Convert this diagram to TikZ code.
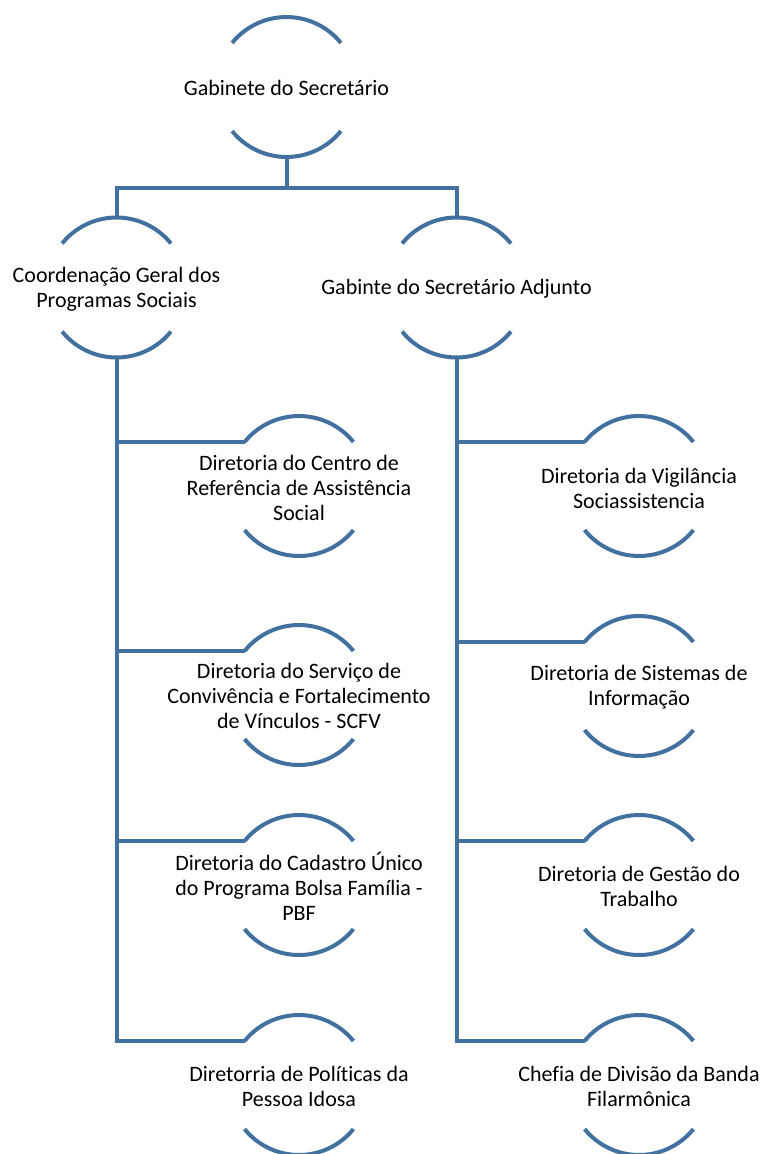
\documentclass[tikz,border=0pt]{standalone}
\usepackage{fontspec}
\setmainfont{Carlito}[Ligatures=NoCommon]
\definecolor{lineblue}{RGB}{66,113,160}
\begin{document}
\begin{tikzpicture}[x=1pt,y=-1pt,
  unit/.style={circle,minimum size=140pt,inner sep=0pt,outer sep=0pt},
  txt/.style={align=center,font=\fontsize{22}{25}\selectfont,text=black,inner sep=0pt},
  conn/.style={draw=lineblue,line width=4pt,line join=miter},
  arcs/.style={draw=lineblue,line width=4pt}]
\useasboundingbox (0,0) rectangle (763,1154);
% units
\node[unit] (g) at (286.5,87) {};
\node[unit] (c) at (116.5,287.5) {};
\node[unit] (a) at (456.5,287.5) {};
\node[unit] (l1) at (299,486) {};
\node[unit] (l2) at (299,695) {};
\node[unit] (l3) at (299,885) {};
\node[unit] (l4) at (299,1085) {};
\node[unit] (r1) at (639,486) {};
\node[unit] (r2) at (639,686) {};
\node[unit] (r3) at (639,885) {};
\node[unit] (r4) at (639,1085) {};
% arcs
\foreach \n in {g,c,a,l1,l2,l3,l4,r1,r2,r3,r4}{
  \draw[arcs] (\n.141) arc[start angle=141,end angle=39,radius=70pt];
  \draw[arcs] (\n.219) arc[start angle=219,end angle=321,radius=70pt];
}
% texts
\node[txt] (gt) at (286.5,88) {Gabinete do Secretário};
\node[txt] (ct) at (116.5,289) {Coordenação Geral dos\\Programas Sociais};
\node[txt] (at) at (456.5,289) {Gabinte do Secretário Adjunto};
\node[txt] (l1t) at (299,488) {Diretoria do Centro de\\Referência de Assistência\\Social};
\node[txt] (l2t) at (299,696) {Diretoria do Serviço de\\Convivência e Fortalecimento\\de Vínculos - SCFV};
\node[txt] (l3t) at (299,886) {Diretoria do Cadastro Único\\do Programa Bolsa Família -\\PBF};
\node[txt] (l4t) at (299,1086) {Diretorria de Políticas da\\Pessoa Idosa};
\node[txt] (r1t) at (639,488) {Diretoria da Vigilância\\Sociassistencia};
\node[txt] (r2t) at (639,687) {Diretoria de Sistemas de\\Informação};
\node[txt] (r3t) at (639,886) {Diretoria de Gestão do\\Trabalho};
\node[txt] (r4t) at (639,1086) {Chefia de Divisão da Banda\\Filarmônica};
% connectors
\coordinate (j0) at (286.5,188);
\draw[conn] (g.south) -- (j0);
\draw[conn] (c.north) -- (c.north |- j0) -- (a.north |- j0) -- (a.north);
\draw[conn] (c.south) -- (c.south |- l4.141) -- (l4.141);
\foreach \k in {l1,l2,l3}{ \draw[conn] (c.south |- \k.141) -- (\k.141); }
\draw[conn] (a.south) -- (a.south |- r4.141) -- (r4.141);
\foreach \k in {r1,r2,r3}{ \draw[conn] (a.south |- \k.141) -- (\k.141); }
\end{tikzpicture}
\end{document}
